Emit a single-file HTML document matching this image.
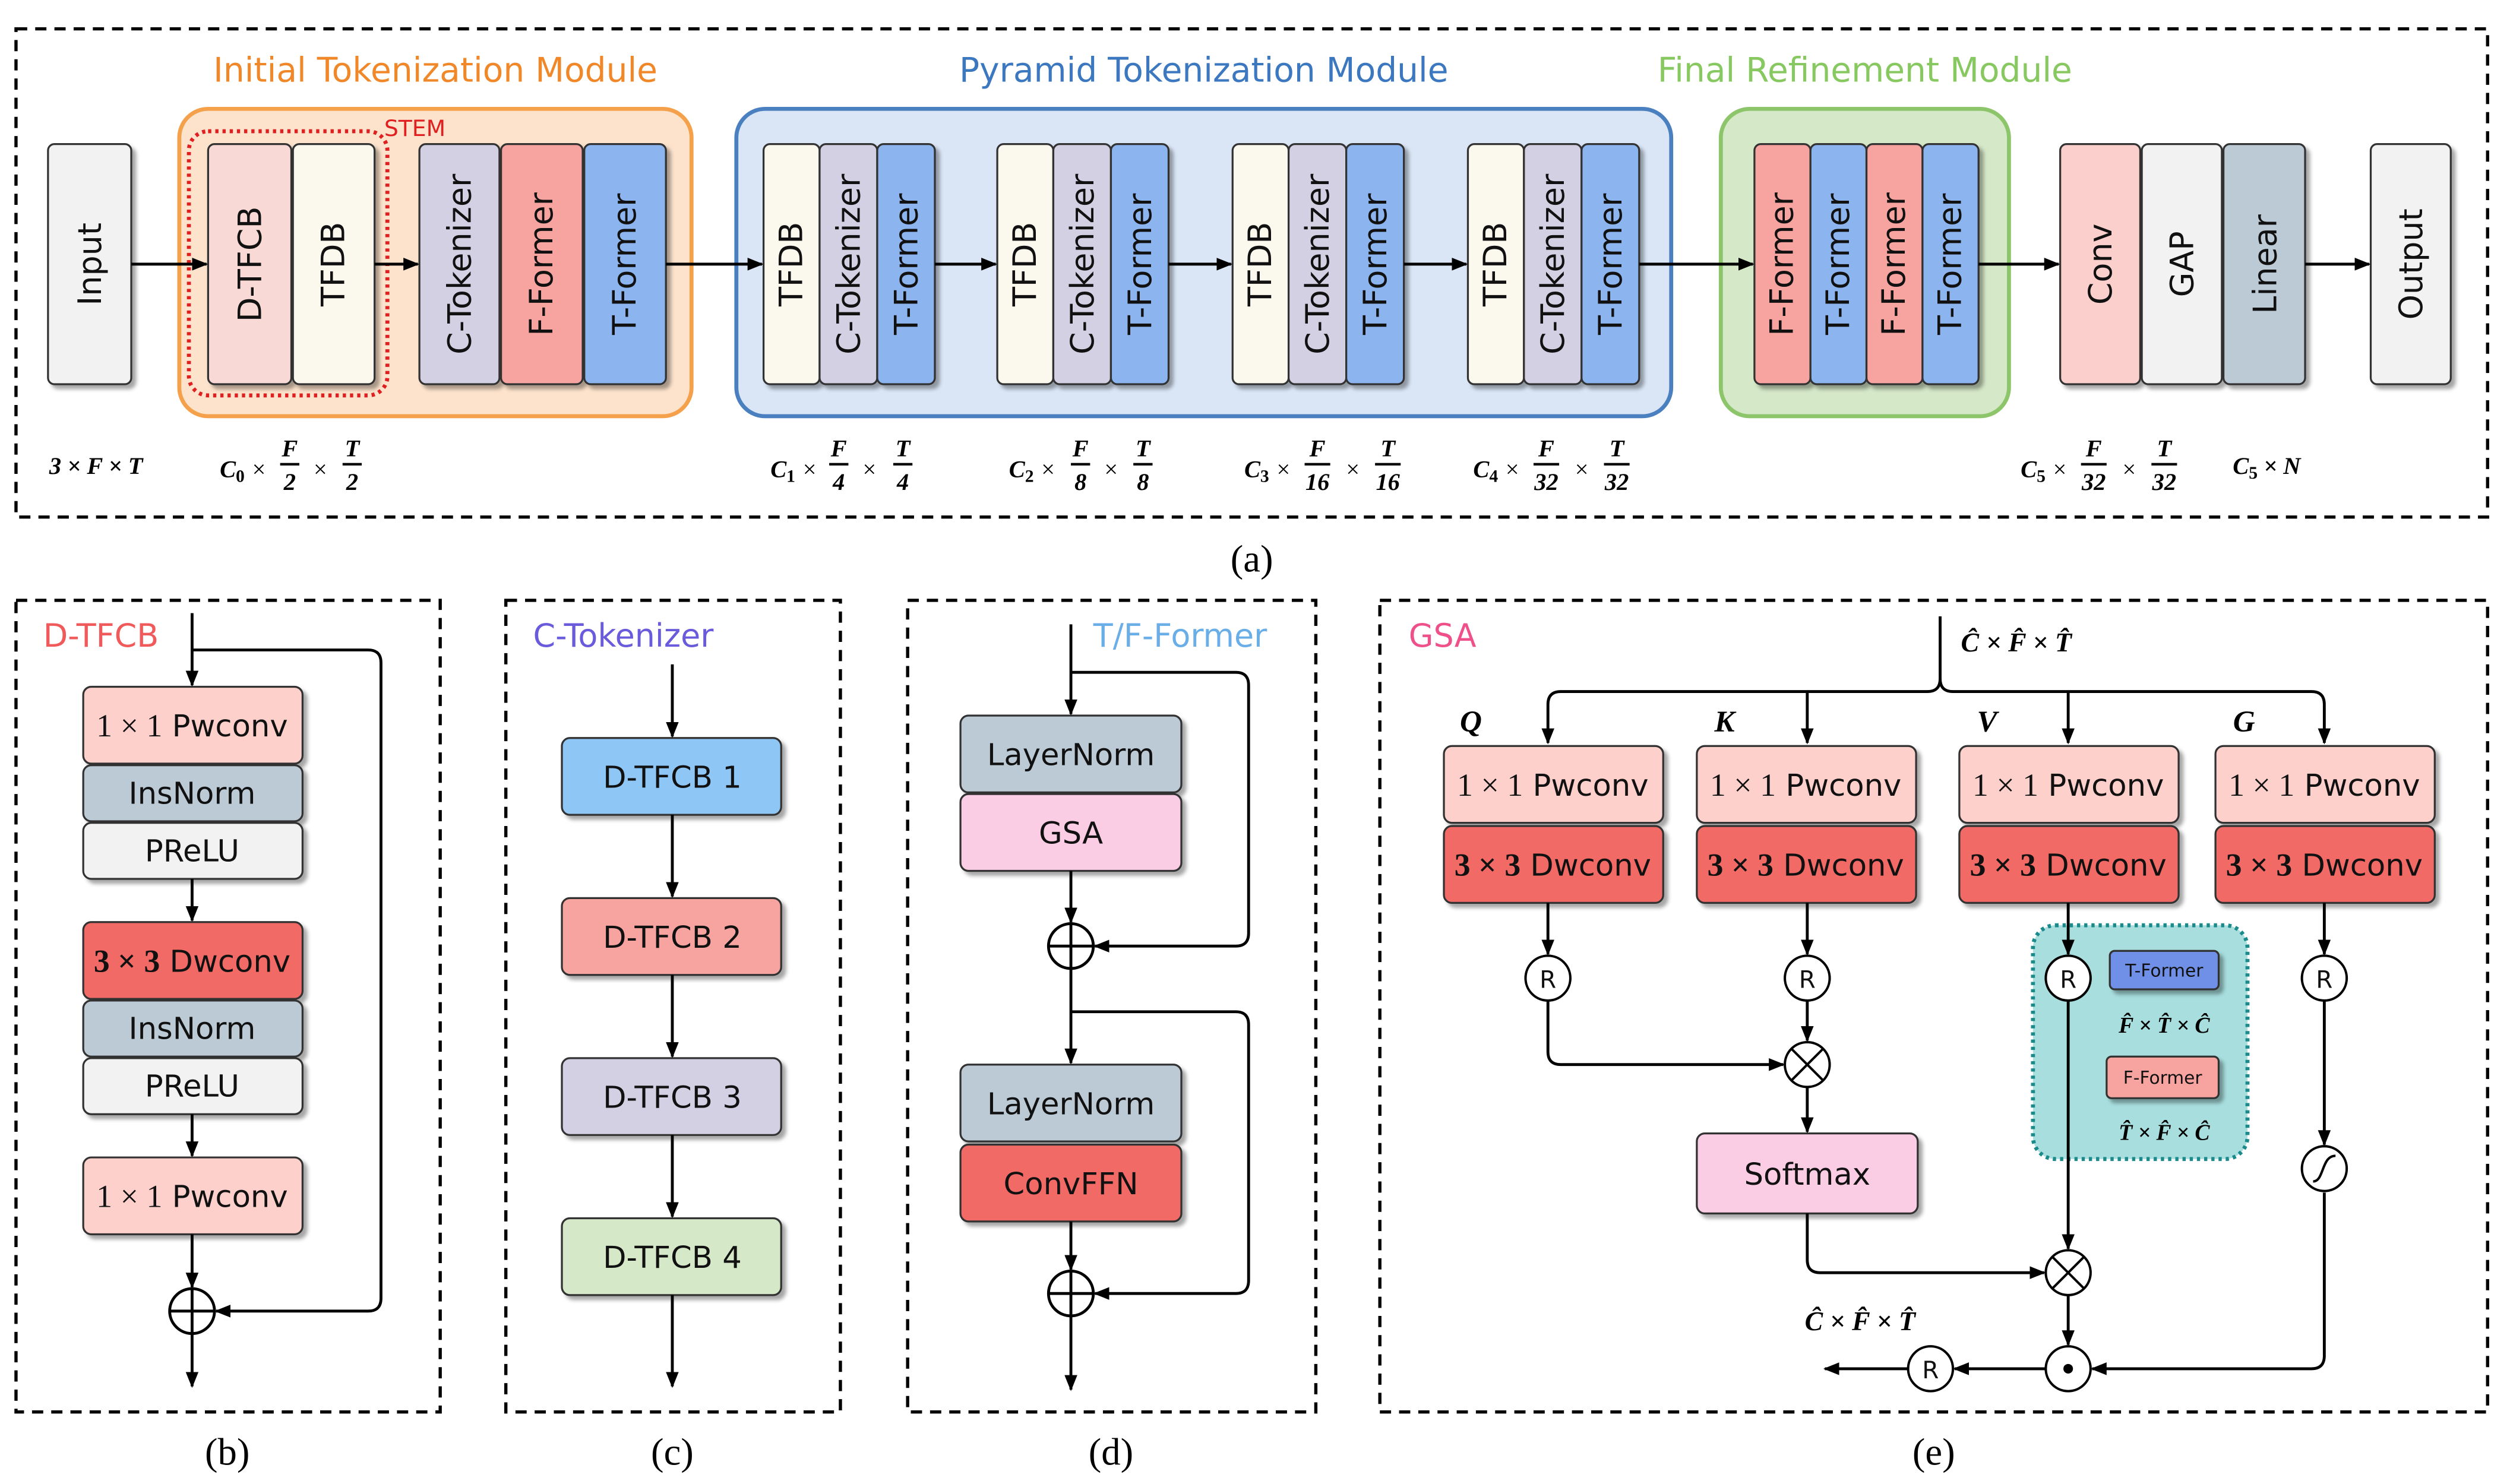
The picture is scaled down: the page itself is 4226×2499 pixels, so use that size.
<!DOCTYPE html>
<html><head><meta charset="utf-8"><style>
html,body{margin:0;padding:0;background:#fff;}
svg{display:block;}
.s{font-family:"DejaVu Sans","Liberation Sans",sans-serif;}
.m{font-family:"Liberation Serif",serif;font-style:italic;font-weight:bold;font-size:15px;}
.n{font-family:"Liberation Serif",serif;}
.cap{font-family:"Liberation Serif",serif;font-size:24px;}
</style></head><body>
<svg width="4226" height="2499" viewBox="0 0 1568 927" preserveAspectRatio="none" xmlns="http://www.w3.org/2000/svg">
<defs>
<filter id="sh" x="-20%" y="-20%" width="150%" height="150%"><feDropShadow dx="2.5" dy="2.5" stdDeviation="1.2" flood-color="#000" flood-opacity="0.35"/></filter>
<marker id="ar" markerWidth="10" markerHeight="8" refX="9" refY="4" orient="auto" markerUnits="userSpaceOnUse"><path d="M0,0 L10,4 L0,8 z" fill="#000"/></marker>
</defs>
<rect width="1568" height="927" fill="#fff"/>
<g fill="none" stroke="#000" stroke-width="2" stroke-dasharray="7,5">
<rect x="10" y="18" width="1544" height="305"/>
<rect x="10" y="375" width="265" height="507"/>
<rect x="316" y="375" width="209" height="507"/>
<rect x="567" y="375" width="255" height="507"/>
<rect x="862" y="375" width="692" height="507"/>
</g>
<g class="cap" text-anchor="middle">
<text x="782" y="357">(a)</text><text x="142" y="915">(b)</text><text x="420" y="915">(c)</text><text x="694" y="915">(d)</text><text x="1208" y="915">(e)</text>
</g>
<g class="s" style="font-size:21px" text-anchor="middle">
<text x="272" y="51" fill="#f0882a">Initial Tokenization Module</text>
<text x="752" y="51" fill="#3c78c0">Pyramid Tokenization Module</text>
<text x="1165" y="51" fill="#88c860">Final Refinement Module</text>
</g>
<rect x="112" y="68" width="320" height="192" rx="18" fill="#fde3cc" stroke="#f5a04a" stroke-width="2.5"/>
<rect x="460" y="68" width="584" height="192" rx="18" fill="#dae6f6" stroke="#4a7fc0" stroke-width="2.5"/>
<rect x="1075" y="68" width="180" height="192" rx="18" fill="#d5e8c8" stroke="#8cc56a" stroke-width="2.5"/>
<g stroke="#333" stroke-width="1.2" filter="url(#sh)">
<rect x="30" y="90" width="52" height="150" rx="4" fill="#f2f2f2"/>
<rect x="130" y="90" width="52" height="150" rx="4" fill="#f9d9d5"/>
<rect x="183" y="90" width="51" height="150" rx="4" fill="#fbf8ee"/>
<rect x="262" y="90" width="50" height="150" rx="4" fill="#d4d0e4"/>
<rect x="313" y="90" width="51" height="150" rx="4" fill="#f7a4a0"/>
<rect x="365" y="90" width="51" height="150" rx="4" fill="#8cb4ee"/>
<rect x="477" y="90" width="35" height="150" rx="4" fill="#fbf8ee"/><rect x="512" y="90" width="36" height="150" rx="4" fill="#d4d0e4"/><rect x="548" y="90" width="36" height="150" rx="4" fill="#8cb4ee"/>
<rect x="623" y="90" width="35" height="150" rx="4" fill="#fbf8ee"/><rect x="658" y="90" width="36" height="150" rx="4" fill="#d4d0e4"/><rect x="694" y="90" width="36" height="150" rx="4" fill="#8cb4ee"/>
<rect x="770" y="90" width="35" height="150" rx="4" fill="#fbf8ee"/><rect x="805" y="90" width="36" height="150" rx="4" fill="#d4d0e4"/><rect x="841" y="90" width="36" height="150" rx="4" fill="#8cb4ee"/>
<rect x="917" y="90" width="35" height="150" rx="4" fill="#fbf8ee"/><rect x="952" y="90" width="36" height="150" rx="4" fill="#d4d0e4"/><rect x="988" y="90" width="36" height="150" rx="4" fill="#8cb4ee"/>
<rect x="1096" y="90" width="35" height="150" rx="4" fill="#f7a4a0"/><rect x="1131" y="90" width="35" height="150" rx="4" fill="#8cb4ee"/><rect x="1166" y="90" width="35" height="150" rx="4" fill="#f7a4a0"/><rect x="1201" y="90" width="35" height="150" rx="4" fill="#8cb4ee"/>
<rect x="1287" y="90" width="50" height="150" rx="4" fill="#fbd0cc"/>
<rect x="1338" y="90" width="50" height="150" rx="4" fill="#f2f2f2"/>
<rect x="1389" y="90" width="51" height="150" rx="4" fill="#bccad6"/>
<rect x="1481" y="90" width="50" height="150" rx="4" fill="#f2f2f2"/>
</g>
<rect x="118" y="82" width="124" height="165" rx="12" fill="none" stroke="#e02020" stroke-width="2.5" stroke-dasharray="2,2.5"/>
<text x="240" y="85" class="s" style="font-size:14px" fill="#e02020">STEM</text>
<g class="s" style="font-size:20px" text-anchor="middle" fill="#111">
<text transform="translate(63,165) rotate(-90)">Input</text>
<text transform="translate(163,165) rotate(-90)">D-TFCB</text>
<text transform="translate(215,165) rotate(-90)">TFDB</text>
<text transform="translate(294,165) rotate(-90)">C-Tokenizer</text>
<text transform="translate(345,165) rotate(-90)">F-Former</text>
<text transform="translate(397,165) rotate(-90)">T-Former</text>
<text transform="translate(501,165) rotate(-90)">TFDB</text><text transform="translate(537,165) rotate(-90)">C-Tokenizer</text><text transform="translate(573,165) rotate(-90)">T-Former</text>
<text transform="translate(647,165) rotate(-90)">TFDB</text><text transform="translate(683,165) rotate(-90)">C-Tokenizer</text><text transform="translate(719,165) rotate(-90)">T-Former</text>
<text transform="translate(794,165) rotate(-90)">TFDB</text><text transform="translate(830,165) rotate(-90)">C-Tokenizer</text><text transform="translate(866,165) rotate(-90)">T-Former</text>
<text transform="translate(941,165) rotate(-90)">TFDB</text><text transform="translate(977,165) rotate(-90)">C-Tokenizer</text><text transform="translate(1013,165) rotate(-90)">T-Former</text>
<text transform="translate(1120,165) rotate(-90)">F-Former</text><text transform="translate(1155,165) rotate(-90)">T-Former</text><text transform="translate(1190,165) rotate(-90)">F-Former</text><text transform="translate(1225,165) rotate(-90)">T-Former</text>
<text transform="translate(1319,165) rotate(-90)">Conv</text>
<text transform="translate(1370,165) rotate(-90)">GAP</text>
<text transform="translate(1422,165) rotate(-90)">Linear</text>
<text transform="translate(1513,165) rotate(-90)">Output</text>
</g>
<g stroke="#000" stroke-width="1.8" marker-end="url(#ar)">
<line x1="82" y1="165" x2="129" y2="165"/><line x1="234" y1="165" x2="261" y2="165"/><line x1="416" y1="165" x2="476" y2="165"/>
<line x1="584" y1="165" x2="622" y2="165"/><line x1="730" y1="165" x2="769" y2="165"/><line x1="877" y1="165" x2="916" y2="165"/>
<line x1="1024" y1="165" x2="1095" y2="165"/><line x1="1236" y1="165" x2="1286" y2="165"/><line x1="1440" y1="165" x2="1480" y2="165"/>
</g>
<!-- dims -->
<g class="m" fill="#000" text-anchor="middle">
<text x="60" y="296">3 × F × T</text>
<text x="152" y="298">C<tspan style="font-size:11px;font-style:normal" dy="3">0</tspan><tspan dy="-3" style="font-weight:normal"> ×</tspan></text><text x="181" y="285">F</text><text x="181" y="306">2</text><text x="200" y="298" style="font-weight:normal">×</text><text x="220" y="285">T</text><text x="220" y="306">2</text>
<text x="496" y="298">C<tspan style="font-size:11px;font-style:normal" dy="3">1</tspan><tspan dy="-3" style="font-weight:normal"> ×</tspan></text><text x="524" y="285">F</text><text x="524" y="306">4</text><text x="543" y="298" style="font-weight:normal">×</text><text x="564" y="285">T</text><text x="564" y="306">4</text>
<text x="645" y="298">C<tspan style="font-size:11px;font-style:normal" dy="3">2</tspan><tspan dy="-3" style="font-weight:normal"> ×</tspan></text><text x="675" y="285">F</text><text x="675" y="306">8</text><text x="694" y="298" style="font-weight:normal">×</text><text x="714" y="285">T</text><text x="714" y="306">8</text>
<text x="792" y="298">C<tspan style="font-size:11px;font-style:normal" dy="3">3</tspan><tspan dy="-3" style="font-weight:normal"> ×</tspan></text><text x="823" y="285">F</text><text x="823" y="306">16</text><text x="845" y="298" style="font-weight:normal">×</text><text x="867" y="285">T</text><text x="867" y="306">16</text>
<text x="935" y="298">C<tspan style="font-size:11px;font-style:normal" dy="3">4</tspan><tspan dy="-3" style="font-weight:normal"> ×</tspan></text><text x="966" y="285">F</text><text x="966" y="306">32</text><text x="988" y="298" style="font-weight:normal">×</text><text x="1010" y="285">T</text><text x="1010" y="306">32</text>
<text x="1277" y="298">C<tspan style="font-size:11px;font-style:normal" dy="3">5</tspan><tspan dy="-3" style="font-weight:normal"> ×</tspan></text><text x="1308" y="285">F</text><text x="1308" y="306">32</text><text x="1330" y="298" style="font-weight:normal">×</text><text x="1352" y="285">T</text><text x="1352" y="306">32</text>
<text x="1416" y="296">C<tspan style="font-size:11px;font-style:normal" dy="3">5</tspan><tspan dy="-3"> × N</tspan></text>
</g>
<g stroke="#000" stroke-width="1.6">
<line x1="175" y1="290" x2="187" y2="290"/><line x1="214" y1="290" x2="226" y2="290"/>
<line x1="518" y1="290" x2="530" y2="290"/><line x1="558" y1="290" x2="570" y2="290"/>
<line x1="669" y1="290" x2="681" y2="290"/><line x1="708" y1="290" x2="720" y2="290"/>
<line x1="815" y1="290" x2="831" y2="290"/><line x1="859" y1="290" x2="875" y2="290"/>
<line x1="958" y1="290" x2="974" y2="290"/><line x1="1002" y1="290" x2="1018" y2="290"/>
<line x1="1300" y1="290" x2="1316" y2="290"/><line x1="1344" y1="290" x2="1360" y2="290"/>
</g>

<!-- (b) -->
<text x="27" y="404" class="s" style="font-size:20px" fill="#f05a5a">D-TFCB</text>
<g stroke="#333" stroke-width="1.2" filter="url(#sh)">
<rect x="52" y="429" width="137" height="48" rx="5" fill="#fdd0cc"/>
<rect x="52" y="478" width="137" height="35" rx="5" fill="#bccad6"/>
<rect x="52" y="514" width="137" height="35" rx="5" fill="#f2f2f2"/>
<rect x="52" y="576" width="137" height="48" rx="5" fill="#f26a66"/>
<rect x="52" y="625" width="137" height="35" rx="5" fill="#bccad6"/>
<rect x="52" y="661" width="137" height="35" rx="5" fill="#f2f2f2"/>
<rect x="52" y="723" width="137" height="48" rx="5" fill="#fdd0cc"/>
</g>
<g class="s" style="font-size:19px" text-anchor="middle" fill="#111">
<text x="120" y="460"><tspan class="n" style="font-size:20px">1 × 1</tspan> Pwconv</text><text x="120" y="502">InsNorm</text><text x="120" y="538">PReLU</text>
<text x="120" y="607"><tspan class="n" style="font-size:20px;font-weight:bold">3 × 3</tspan> Dwconv</text><text x="120" y="649">InsNorm</text><text x="120" y="685">PReLU</text>
<text x="120" y="754"><tspan class="n" style="font-size:20px">1 × 1</tspan> Pwconv</text>
</g>
<g stroke="#000" stroke-width="1.8" fill="none">
<line x1="120" y1="383" x2="120" y2="428" marker-end="url(#ar)"/>
<line x1="120" y1="549" x2="120" y2="575" marker-end="url(#ar)"/>
<line x1="120" y1="696" x2="120" y2="722" marker-end="url(#ar)"/>
<line x1="120" y1="771" x2="120" y2="804" marker-end="url(#ar)"/>
<path d="M120,406 H230 Q238,406 238,414 V811 Q238,819 230,819 H135" marker-end="url(#ar)"/>
<circle cx="120" cy="819" r="14"/><path d="M106,819 H134 M120,805 V833"/>
<line x1="120" y1="833" x2="120" y2="866" marker-end="url(#ar)"/>
</g>

<!-- (c) -->
<text x="333" y="404" class="s" style="font-size:20px" fill="#6a5adc">C-Tokenizer</text>
<g stroke="#333" stroke-width="1.2" filter="url(#sh)">
<rect x="351" y="461" width="137" height="48" rx="5" fill="#8ec6f6"/>
<rect x="351" y="561" width="137" height="48" rx="5" fill="#f7a4a0"/>
<rect x="351" y="661" width="137" height="48" rx="5" fill="#d4d0e4"/>
<rect x="351" y="761" width="137" height="48" rx="5" fill="#d5e8c8"/>
</g>
<g class="s" style="font-size:19px" text-anchor="middle" fill="#111">
<text x="420" y="492">D-TFCB 1</text><text x="420" y="592">D-TFCB 2</text><text x="420" y="692">D-TFCB 3</text><text x="420" y="792">D-TFCB 4</text>
</g>
<g stroke="#000" stroke-width="1.8" marker-end="url(#ar)">
<line x1="420" y1="415" x2="420" y2="460"/><line x1="420" y1="509" x2="420" y2="560"/><line x1="420" y1="609" x2="420" y2="660"/><line x1="420" y1="709" x2="420" y2="760"/><line x1="420" y1="809" x2="420" y2="866"/>
</g>

<!-- (d) -->
<text x="683" y="404" class="s" style="font-size:20px" fill="#6aaee8">T/F-Former</text>
<g stroke="#333" stroke-width="1.2" filter="url(#sh)">
<rect x="600" y="447" width="138" height="48" rx="5" fill="#bccad6"/>
<rect x="600" y="496" width="138" height="48" rx="5" fill="#fbcde4"/>
<rect x="600" y="665" width="138" height="48" rx="5" fill="#bccad6"/>
<rect x="600" y="715" width="138" height="48" rx="5" fill="#f26a66"/>
</g>
<g class="s" style="font-size:19px" text-anchor="middle" fill="#111">
<text x="669" y="478">LayerNorm</text><text x="669" y="527">GSA</text><text x="669" y="696">LayerNorm</text><text x="669" y="746">ConvFFN</text>
</g>
<g stroke="#000" stroke-width="1.8" fill="none">
<line x1="669" y1="390" x2="669" y2="446" marker-end="url(#ar)"/>
<path d="M669,420 H772 Q780,420 780,428 V583 Q780,591 772,591 H684" marker-end="url(#ar)"/>
<line x1="669" y1="544" x2="669" y2="576" marker-end="url(#ar)"/>
<circle cx="669" cy="591" r="14"/><path d="M655,591 H683 M669,577 V605"/>
<line x1="669" y1="605" x2="669" y2="664" marker-end="url(#ar)"/>
<path d="M669,632 H772 Q780,632 780,640 V800 Q780,808 772,808 H684" marker-end="url(#ar)"/>
<line x1="669" y1="763" x2="669" y2="793" marker-end="url(#ar)"/>
<circle cx="669" cy="808" r="14"/><path d="M655,808 H683 M669,794 V822"/>
<line x1="669" y1="822" x2="669" y2="868" marker-end="url(#ar)"/>
</g>

<!-- (e) -->
<text x="880" y="404" class="s" style="font-size:20px" fill="#f0508a">GSA</text>
<text x="1225" y="407" class="m" style="font-size:17px">Ĉ × F̂ × T̂</text>
<g class="m" style="font-size:19px"><text x="912" y="457">Q</text><text x="1071" y="457">K</text><text x="1235" y="457">V</text><text x="1395" y="457">G</text></g>
<rect x="1270" y="578" width="134" height="146" rx="14" fill="#a8dede" stroke="#1a8a8a" stroke-width="2.5" stroke-dasharray="2,2.5"/>
<g stroke="#333" stroke-width="1.2" filter="url(#sh)">
<rect x="902" y="466" width="137" height="48" rx="5" fill="#fdd0cc"/><rect x="902" y="516" width="137" height="48" rx="5" fill="#f26a66"/>
<rect x="1060" y="466" width="137" height="48" rx="5" fill="#fdd0cc"/><rect x="1060" y="516" width="137" height="48" rx="5" fill="#f26a66"/>
<rect x="1224" y="466" width="137" height="48" rx="5" fill="#fdd0cc"/><rect x="1224" y="516" width="137" height="48" rx="5" fill="#f26a66"/>
<rect x="1384" y="466" width="137" height="48" rx="5" fill="#fdd0cc"/><rect x="1384" y="516" width="137" height="48" rx="5" fill="#f26a66"/>
<rect x="1060" y="708" width="138" height="50" rx="5" fill="#fbcde4"/>
<rect x="1318" y="594" width="68" height="24" rx="3" fill="#6f8fe6"/>
<rect x="1316" y="660" width="70" height="26" rx="3" fill="#f7a4a0"/>
</g>
<g class="s" style="font-size:19px" text-anchor="middle" fill="#111">
<text x="970" y="497"><tspan class="n" style="font-size:20px">1 × 1</tspan> Pwconv</text><text x="970" y="547"><tspan class="n" style="font-size:20px;font-weight:bold">3 × 3</tspan> Dwconv</text>
<text x="1128" y="497"><tspan class="n" style="font-size:20px">1 × 1</tspan> Pwconv</text><text x="1128" y="547"><tspan class="n" style="font-size:20px;font-weight:bold">3 × 3</tspan> Dwconv</text>
<text x="1292" y="497"><tspan class="n" style="font-size:20px">1 × 1</tspan> Pwconv</text><text x="1292" y="547"><tspan class="n" style="font-size:20px;font-weight:bold">3 × 3</tspan> Dwconv</text>
<text x="1452" y="497"><tspan class="n" style="font-size:20px">1 × 1</tspan> Pwconv</text><text x="1452" y="547"><tspan class="n" style="font-size:20px;font-weight:bold">3 × 3</tspan> Dwconv</text>
<text x="1129" y="740">Softmax</text>
<text x="1352" y="610" style="font-size:11px">T-Former</text><text x="1351" y="677" style="font-size:11px">F-Former</text>
</g>
<g class="m" text-anchor="middle"><text x="1352" y="645" style="font-size:14px">F̂ × T̂ × Ĉ</text><text x="1352" y="712" style="font-size:14px">T̂ × F̂ × Ĉ</text><text x="1162" y="831" style="font-size:17px">Ĉ × F̂ × T̂</text></g>
<g stroke="#000" stroke-width="1.8" fill="none">
<path d="M1212,385 V424 Q1212,432 1204,432 H975 Q967,432 967,440 V464" marker-end="url(#ar)"/>
<path d="M1212,424 Q1212,432 1220,432 H1444 Q1452,432 1452,440 V464" marker-end="url(#ar)"/>
<line x1="1129" y1="432" x2="1129" y2="464" marker-end="url(#ar)"/>
<line x1="1292" y1="432" x2="1292" y2="464" marker-end="url(#ar)"/>
<line x1="967" y1="564" x2="967" y2="596" marker-end="url(#ar)"/>
<line x1="1129" y1="564" x2="1129" y2="596" marker-end="url(#ar)"/>
<line x1="1292" y1="564" x2="1292" y2="596" marker-end="url(#ar)"/>
<line x1="1452" y1="564" x2="1452" y2="596" marker-end="url(#ar)"/>
<path d="M967,625 V657 Q967,665 975,665 H1114" marker-end="url(#ar)"/>
<line x1="1129" y1="625" x2="1129" y2="650" marker-end="url(#ar)"/>
<line x1="1129" y1="679" x2="1129" y2="707" marker-end="url(#ar)"/>
<path d="M1129,758 V787 Q1129,795 1137,795 H1277" marker-end="url(#ar)"/>
<line x1="1292" y1="625" x2="1292" y2="780" marker-end="url(#ar)"/>
<line x1="1452" y1="625" x2="1452" y2="715" marker-end="url(#ar)"/>
<path d="M1452,745 V847 Q1452,855 1444,855 H1307" marker-end="url(#ar)"/>
<line x1="1292" y1="809" x2="1292" y2="840" marker-end="url(#ar)"/>
<line x1="1278" y1="855" x2="1221" y2="855" marker-end="url(#ar)"/>
<line x1="1192" y1="855" x2="1140" y2="855" marker-end="url(#ar)"/>
</g>
<g stroke="#000" stroke-width="1.5" fill="#fff">
<circle cx="967" cy="611" r="14"/><circle cx="1129" cy="611" r="14"/><circle cx="1292" cy="611" r="14"/><circle cx="1452" cy="611" r="14"/>
<circle cx="1206" cy="855" r="14"/>
<circle cx="1129" cy="665" r="14"/><circle cx="1292" cy="795" r="14"/><circle cx="1292" cy="855" r="14"/><circle cx="1452" cy="730" r="14"/>
</g>
<g stroke="#000" stroke-width="1.5" fill="none">
<path d="M1119,655 L1139,675 M1139,655 L1119,675"/>
<path d="M1282,785 L1302,805 M1302,785 L1282,805"/>
<path d="M1445,738 C1452,738 1450,722 1459,722"/>
</g>
<circle cx="1292" cy="855" r="3" fill="#000"/>
<g class="s" style="font-size:15px" text-anchor="middle" fill="#111">
<text x="967" y="617">R</text><text x="1129" y="617">R</text><text x="1292" y="617">R</text><text x="1452" y="617">R</text><text x="1206" y="861">R</text>
</g>
</svg>
</body></html>
